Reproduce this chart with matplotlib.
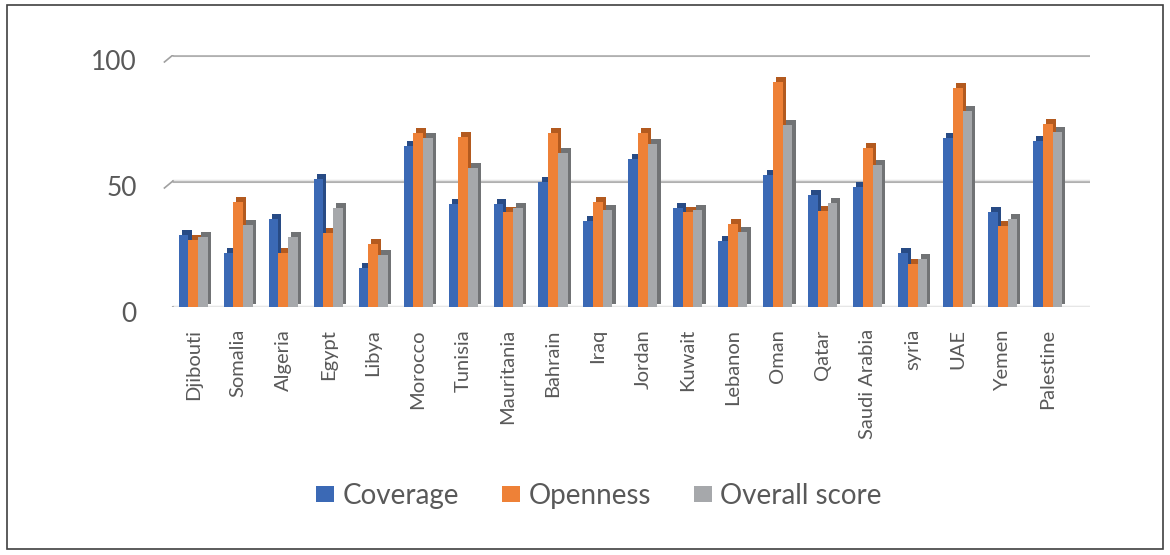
import numpy as np
import matplotlib.pyplot as plt
import matplotlib.transforms as mtransforms
from matplotlib.patches import Rectangle, Patch

countries = ["Djibouti", "Somalia", "Algeria", "Egypt", "Libya", "Morocco",
             "Tunisia", "Mauritania", "Bahrain", "Iraq", "Jordan", "Kuwait",
             "Lebanon", "Oman", "Qatar", "Saudi Arabia", "syria", "UAE",
             "Yemen", "Palestine"]
coverage = [29.5, 22.3, 36.0, 51.7, 16.4, 64.8, 41.8, 41.9, 50.4, 35.2,
            59.6, 40.2, 27.3, 53.3, 45.4, 48.7, 22.3, 68.0, 38.7, 66.7]
openness = [27.5, 42.6, 22.5, 30.3, 26.1, 70.2, 68.3, 38.6, 70.2, 42.7,
            70.2, 38.6, 33.8, 90.1, 39.1, 64.2, 18.1, 87.7, 33.2, 73.7]
overall = [28.6, 33.5, 28.7, 40.2, 21.7, 67.9, 56.2, 40.2, 62.0, 39.4,
           65.6, 39.3, 30.8, 73.3, 42.1, 57.2, 19.9, 78.7, 35.7, 70.5]
series_names = ["Coverage", "Openness", "Overall score"]
yticks = [0, 50, 100]

face = ["#3b69b5", "#ee8137", "#a6a8ab"]
side = ["#284b85", "#b35a1f", "#717375"]
text_col = "#595959"

fig = plt.figure(figsize=(11.7, 5.55), dpi=100)
ax = fig.add_axes([0.139, 0.447, 0.793, 0.454])

x = np.arange(len(countries))
w = 0.215
dx, dy = 0.07, 1.0   # depth offset of the pseudo-3D side faces

# gridlines drawn as a double line to mimic the back wall
for t in yticks:
    ax.plot([-0.45, 19.95], [t, t], color="#b0b0b0", lw=2.2, zorder=0,
            solid_capstyle="round")
    ax.plot([-0.45, 19.95], [t + 0.45, t + 0.45], color="#e6e6e6", lw=1.0,
            zorder=0)
    ax.plot([-0.64, -0.45], [t - 2.8, t], color="#a0a0a0", lw=1.2, zorder=0)

for i, vals in enumerate([coverage, openness, overall]):
    pos = x - w + i * w
    # darker side/back block first, then the front face on top
    ax.bar(pos + dx, vals, width=w, bottom=dy, color=side[i], zorder=2 + i)
    ax.bar(pos, vals, width=w, bottom=-dy, color=face[i], zorder=2.5 + i,
           linewidth=0)

ax.set_xlim(-0.68, 19.95)
ax.set_ylim(0, 100)
for s in ax.spines.values():
    s.set_visible(False)

# value labels sit a little below their gridline (front edge of the floor)
ax.set_yticks(yticks)
ax.set_yticklabels([])
ax.tick_params(axis="y", length=0)
lab_tf = ax.get_yaxis_transform() + mtransforms.ScaledTranslation(
    -0.26, -0.08, fig.dpi_scale_trans)
for t in yticks:
    ax.text(0, t, str(t), transform=lab_tf, ha="right", va="center",
            fontsize=19, color=text_col, family="Lato")

ax.set_xticks(x)
ax.set_xticklabels(countries, rotation=90, fontsize=14.5, color=text_col,
                   family="Lato", va="top")
ax.tick_params(axis="x", length=0, pad=16)

handles = [Patch(facecolor=c, edgecolor="none") for c in face]
leg = fig.legend(handles, series_names, loc="center", ncol=3,
                 bbox_to_anchor=(0.512, 0.107), frameon=False,
                 prop={"family": "Lato", "size": 20}, handlelength=0.65,
                 handleheight=0.5, handletextpad=0.3, columnspacing=1.55)
for t in leg.get_texts():
    t.set_color(text_col)

fig.patches.append(Rectangle((0.006, 0.011), 0.988, 0.98, transform=fig.transFigure,
                             fill=False, edgecolor="#404040", lw=1.2))

fig.savefig("out.png", dpi=100)
